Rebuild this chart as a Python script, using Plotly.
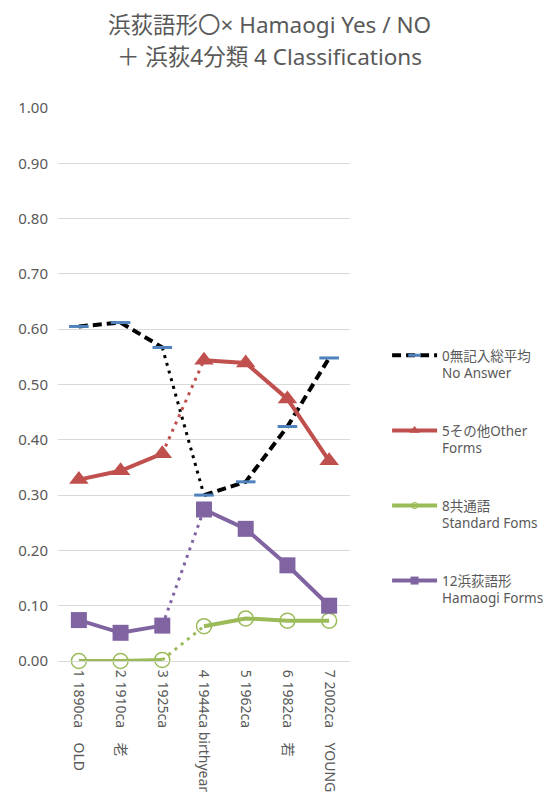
import plotly.graph_objects as go

NB = "\u00a0"
categories = [
    "1 1890ca" + NB * 4 + "OLD",
    "2 1910ca" + NB * 4 + "老",
    "3 1925ca",
    "4 1944ca birthyear",
    "5 1962ca",
    "6 1982ca" + NB * 4 + "若",
    "7 2002ca" + NB * 4 + "YOUNG",
]
no_answer = [0.605, 0.612, 0.567, 0.300, 0.324, 0.424, 0.548]
other_forms = [0.328, 0.344, 0.375, 0.544, 0.539, 0.474, 0.362]
standard_forms = [0.000, 0.000, 0.002, 0.063, 0.077, 0.073, 0.073]
hamaogi_forms = [0.074, 0.051, 0.064, 0.274, 0.239, 0.173, 0.100]

y_ticks = [0.0, 0.1, 0.2, 0.3, 0.4, 0.5, 0.6, 0.7, 0.8, 0.9, 1.0]

FONT = "'Noto Sans', 'Noto Sans CJK JP', sans-serif"
GRAY = "#595959"

series = [
    dict(name="0無記入総平均<br>No Answer", y=no_answer, color="#000000",
         dash="9px,5px", width=4,
         marker=dict(symbol="line-ew", size=14, line=dict(color="#4F81BD", width=3), color="#4F81BD"),
         legend_marker=dict(symbol="line-ew", size=9, line=dict(color="#4F81BD", width=3), color="#4F81BD")),
    dict(name="5その他Other<br>Forms", y=other_forms, color="#C0504D",
         dash="solid", width=4,
         marker=dict(symbol="triangle-up", size=17, color="#C0504D"),
         legend_marker=dict(symbol="triangle-up", size=9, color="#C0504D")),
    dict(name="8共通語<br>Standard Foms", y=standard_forms, color="#9BBB59",
         dash="solid", width=4,
         marker=dict(symbol="circle-open", size=15, color="#9BBB59", line=dict(width=1.5)),
         legend_marker=dict(symbol="circle-open", size=6, color="#9BBB59", line=dict(width=1.2))),
    dict(name="12浜荻語形<br>Hamaogi Forms", y=hamaogi_forms, color="#8064A2",
         dash="solid", width=4,
         marker=dict(symbol="square", size=16, color="#8064A2"),
         legend_marker=dict(symbol="square", size=8, color="#8064A2")),
]

fig = go.Figure()

# dotted connectors between 3rd and 4th category
for i, s in enumerate(series):
    fig.add_trace(go.Scatter(
        x=categories[2:4], y=s["y"][2:4], mode="lines",
        line=dict(color=s["color"], width=3, dash="3px,5px"),
        legendgroup=str(i), showlegend=False, cliponaxis=False, hoverinfo="skip"))

for i, s in enumerate(series):
    for (a, b) in [(0, 3), (3, 7)]:
        fig.add_trace(go.Scatter(
            x=categories[a:b], y=s["y"][a:b], mode="lines+markers",
            name=s["name"], legendgroup=str(i), showlegend=False,
            line=dict(color=s["color"], width=s["width"], dash=s["dash"]),
            marker=s["marker"], cliponaxis=False))
    # legend entry (no data points of its own)
    fig.add_trace(go.Scatter(
        x=[None], y=[None], mode="lines+markers", name=s["name"],
        legendgroup=str(i), showlegend=True,
        line=dict(color=s["color"], width=s["width"], dash=s["dash"]),
        marker=s["legend_marker"]))

fig.add_annotation(text="浜荻語形〇× Hamaogi Yes / NO", xref="paper", yref="paper",
                   x=0.726, y=(661 - 25) / 553, xanchor="center", yanchor="middle",
                   showarrow=False, font=dict(size=22.5, color=GRAY, family=FONT))
fig.add_annotation(text="＋ 浜荻4分類 4 Classifications", xref="paper", yref="paper",
                   x=0.726, y=(661 - 57) / 553, xanchor="center", yanchor="middle",
                   showarrow=False, font=dict(size=22.5, color=GRAY, family=FONT))

fig.update_layout(
    width=544, height=796,
    margin=dict(l=50, r=202, t=100, b=143, autoexpand=False),
    paper_bgcolor="white", plot_bgcolor="white",
    font=dict(family=FONT, color=GRAY, size=14),
    showlegend=True,
    legend=dict(x=1.127, y=(661 - 340) / 553, xanchor="left", yanchor="top",
                traceorder="grouped", tracegroupgap=37, valign="top",
                itemwidth=45, font=dict(size=13.5, color=GRAY, family=FONT),
                bgcolor="rgba(0,0,0,0)"),
    xaxis=dict(type="category", categoryorder="array", categoryarray=categories,
               range=[-0.5, 6.5], tickangle=90, showgrid=False, showline=True,
               linecolor="#D9D9D9", linewidth=1, ticks="", zeroline=False,
               ticklabelstandoff=5,
               tickfont=dict(size=14, color=GRAY, family=FONT)),
    yaxis=dict(range=[0, 1], tickvals=y_ticks, tickformat=".2f", showgrid=True,
               gridcolor="#D9D9D9", gridwidth=1, zeroline=False, showline=False,
               ticks="", ticklabelstandoff=9,
               tickfont=dict(size=15, color=GRAY, family=FONT)),
)

fig.write_html("out.html")
